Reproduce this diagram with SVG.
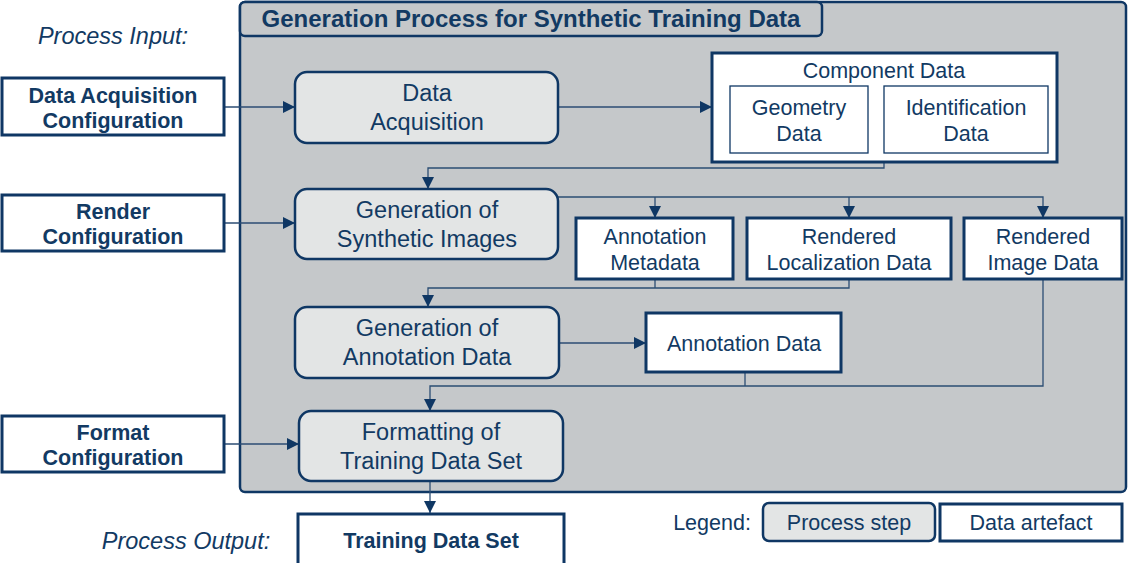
<svg xmlns="http://www.w3.org/2000/svg" width="1128" height="563" viewBox="0 0 1128 563">
<style>
text{font-family:"Liberation Sans",Arial,sans-serif;fill:#123a63;text-anchor:middle}
.t{font-size:21.5px}
.p{font-size:23.5px}
.b{font-size:21.5px;font-weight:bold}
.i{font-size:23.5px;font-style:italic}
.proc{fill:#e3e5e5;stroke:#0f3764;stroke-width:2.5}
.data{fill:#fff;stroke:#0f3764;stroke-width:3}
.thin{fill:#fff;stroke:#0f3764;stroke-width:1.3}
.con{fill:none;stroke:#2b4d73;stroke-width:1.3}
</style>
<defs>
<marker id="ah" viewBox="0 0 10 10" refX="10" refY="5" markerWidth="12" markerHeight="12" markerUnits="userSpaceOnUse" orient="auto">
<path d="M0,0 L10,5 L0,10 z" fill="#0f3764"/>
</marker>
</defs>
<g id="container">
<rect x="240" y="2" width="886" height="490" rx="5" fill="#c5c8ca" stroke="#0f3764" stroke-width="2.5"/>
<rect x="240" y="2" width="582" height="34" rx="5" fill="#c5c8ca" stroke="#0f3764" stroke-width="2.5"/>
<text x="531" y="27" style="font-size:24px;font-weight:bold">Generation Process for Synthetic Training Data</text>
</g>
<g id="labels">
<text class="i" x="113" y="44">Process Input:</text>
<text class="i" x="186" y="549">Process Output:</text>
<text class="t" x="712" y="530">Legend:</text>
</g>
<g id="connectors">
<line class="con" x1="224" y1="107" x2="295" y2="107" marker-end="url(#ah)"/>
<line class="con" x1="558" y1="107" x2="712" y2="107" marker-end="url(#ah)"/>
<line class="con" x1="868" y1="125" x2="884" y2="125"/>
<polyline class="con" points="884,162 884,168 428,168 428,189" marker-end="url(#ah)"/>
<line class="con" x1="224" y1="223" x2="295" y2="223" marker-end="url(#ah)"/>
<polyline class="con" points="558,197 1043,197 1043,218" marker-end="url(#ah)"/>
<line class="con" x1="655" y1="197" x2="655" y2="218" marker-end="url(#ah)"/>
<line class="con" x1="849" y1="197" x2="849" y2="218" marker-end="url(#ah)"/>
<line class="con" x1="655" y1="279" x2="655" y2="288"/>
<polyline class="con" points="849,279 849,288 428,288 428,307" marker-end="url(#ah)"/>
<line class="con" x1="559" y1="343" x2="646" y2="343" marker-end="url(#ah)"/>
<line class="con" x1="745" y1="372" x2="745" y2="386"/>
<polyline class="con" points="1043,279 1043,386 430,386 430,411" marker-end="url(#ah)"/>
<line class="con" x1="224" y1="444" x2="299" y2="444" marker-end="url(#ah)"/>
<line class="con" x1="430" y1="481" x2="430" y2="513" marker-end="url(#ah)"/>
</g>
<g id="dac">
<rect class="data" x="2" y="78" width="222" height="57"/>
<text class="b" x="113" y="103">Data Acquisition</text>
<text class="b" x="113" y="128">Configuration</text>
</g>
<g id="rc">
<rect class="data" x="2" y="195" width="222" height="56"/>
<text class="b" x="113" y="219">Render</text>
<text class="b" x="113" y="244">Configuration</text>
</g>
<g id="fc">
<rect class="data" x="2" y="416" width="222" height="56"/>
<text class="b" x="113" y="440">Format</text>
<text class="b" x="113" y="465">Configuration</text>
</g>
<g id="da">
<rect class="proc" x="295" y="72" width="263" height="71" rx="12"/>
<text class="p" x="427" y="101">Data</text>
<text class="p" x="427" y="130">Acquisition</text>
</g>
<g id="cd">
<rect class="data" x="712" y="53" width="345" height="109"/>
<text class="t" x="884" y="78">Component Data</text>
</g>
<g id="gd">
<rect class="thin" x="730" y="86" width="138" height="67"/>
<text class="t" x="799" y="115">Geometry</text>
<text class="t" x="799" y="141">Data</text>
</g>
<g id="id">
<rect class="thin" x="884" y="86" width="164" height="67"/>
<text class="t" x="966" y="115">Identification</text>
<text class="t" x="966" y="141">Data</text>
</g>
<g id="gsi">
<rect class="proc" x="295" y="189" width="263" height="70" rx="12"/>
<text class="p" x="427" y="218">Generation of</text>
<text class="p" x="427" y="247">Synthetic Images</text>
</g>
<g id="am">
<rect class="data" x="576" y="218" width="157" height="61"/>
<text class="t" x="655" y="244">Annotation</text>
<text class="t" x="655" y="270">Metadata</text>
</g>
<g id="rld">
<rect class="data" x="747" y="218" width="204" height="61"/>
<text class="t" x="849" y="244">Rendered</text>
<text class="t" x="849" y="270">Localization Data</text>
</g>
<g id="rid">
<rect class="data" x="964" y="218" width="158" height="61"/>
<text class="t" x="1043" y="244">Rendered</text>
<text class="t" x="1043" y="270">Image Data</text>
</g>
<g id="gad">
<rect class="proc" x="295" y="307" width="264" height="71" rx="12"/>
<text class="p" x="427" y="336">Generation of</text>
<text class="p" x="427" y="365">Annotation Data</text>
</g>
<g id="ad">
<rect class="data" x="646" y="313" width="195" height="59"/>
<text class="t" x="744" y="351">Annotation Data</text>
</g>
<g id="ftd">
<rect class="proc" x="299" y="411" width="264" height="70" rx="12"/>
<text class="p" x="431" y="440">Formatting of</text>
<text class="p" x="431" y="469">Training Data Set</text>
</g>
<g id="tds">
<rect class="data" x="298" y="514" width="266" height="56"/>
<text class="b" x="431" y="548">Training Data Set</text>
</g>
<g id="legend-process">
<rect class="proc" x="763" y="503" width="172" height="38" rx="6"/>
<text class="t" x="849" y="530">Process step</text>
</g>
<g id="legend-data">
<rect class="data" x="940" y="504" width="182" height="37"/>
<text class="t" x="1031" y="530">Data artefact</text>
</g>
</svg>
